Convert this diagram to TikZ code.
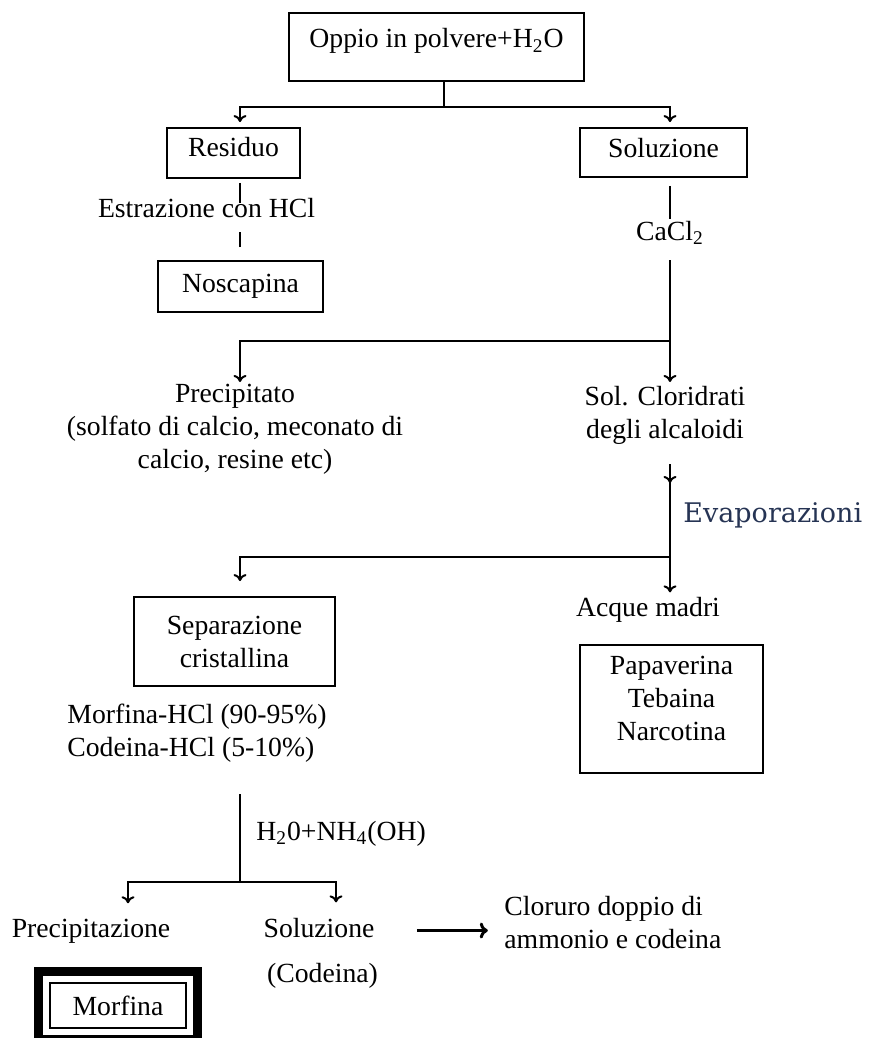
\documentclass[tikz,border=0pt]{standalone}
\usepackage{fontspec}
\setmainfont{Liberation Serif}
\newfontfamily\evapfont{DejaVu Serif}
\usetikzlibrary{arrows.meta,fit}
\definecolor{evapblue}{RGB}{38,52,84}

\begin{document}
\begin{tikzpicture}[x=0.5pt, y=-0.5pt, inner sep=0pt,
        font=\fontsize{13.85pt}{16.5pt}\selectfont,
        box/.style={draw, line width=0.9pt},
        txt/.style={anchor=base},
        link/.style={line width=1pt},
        arr/.style={line width=1pt, -{To[length=3.5pt,width=6.5pt]}},
        bigarr/.style={line width=1.5pt, -{To[length=4pt,width=8pt]}},
        frame/.style={draw, line width=4.5pt}]
        \useasboundingbox (0,0) rectangle (874,1038);
        \coordinate (colL) at (240,0); %left column of connectors
        \coordinate (colR) at (670,0); %right column of connectors
        \coordinate (j1) at (444,107);
        \coordinate (j2) at (670,341);
        \coordinate (j3) at (670,557);
        \coordinate (j4) at (240,882);

        \node[box, minimum width=147.5pt, minimum height=34pt, text height=10pt, text depth=9pt] (top) at (436.5,47) {Oppio in polvere+H\textsubscript{2}O};
        \node[box, minimum width=66.5pt, minimum height=25pt, text height=10pt, text depth=7pt] (res) at (233.5,153) {Residuo};
        \node[box, minimum width=83.5pt, minimum height=24.5pt, text height=10pt, text depth=5.5pt] (sol) at (663.5,152.5) {Soluzione};
        \node[txt] (estr) at (206.5,217) {Estrazione con HCl};
        \node[box, minimum width=82.5pt, minimum height=25.5pt, text height=10pt, text depth=4.5pt] (nos) at (240.5,286.5) {Noscapina};
        \node[txt] (cacl) at (670,240) {CaCl\textsubscript{2}};

        \node[anchor=north, align=center] (prec) at (235,384) {Precipitato\\(solfato di calcio, meconato di\\calcio, resine etc)};
        \node[anchor=north, align=center] (solclor) at (665,386) {Sol. Cloridrati\\degli alcaloidi};
        \node[anchor=base west, text=evapblue, font=\evapfont\fontsize{13.5pt}{16pt}\selectfont] (evap) at (683,522) {Evaporazioni};

        \node[box, align=center, minimum width=100.5pt, minimum height=44.5pt] (sep) at (234.5,641.5) {Separazione\\cristallina};
        \node[txt] (acque) at (648,616) {Acque madri};
        \node[box, align=center, minimum width=91.5pt, minimum height=64pt] (pap) at (671.5,709) {Papaverina\\Tebaina\\Narcotina\rule[-11pt]{0pt}{11pt}};
        \node[anchor=north west, align=left] (hcl) at (67,704) {Morfina-HCl (90-95\%)\\Codeina-HCl (5-10\%)};
        \node[anchor=base west] (nh) at (256,840) {H\textsubscript{2}0+NH\textsubscript{4}(OH)};

        \node[txt] (precz) at (91,937) {Precipitazione};
        \node[txt] (solz) at (319,937) {Soluzione};
        \node[txt] (cod) at (322.5,982) {(Codeina)};
        \node[anchor=north west, align=left] (clor) at (504,896) {Cloruro doppio di\\ammonio e codeina};
        \node[box, minimum width=68pt, minimum height=22.5pt] (morf) at (118,1005.5) {Morfina};
        \node[frame, fit=(morf), inner sep=5.25pt] (morfframe) {}; %thick outer frame

        % first split
        \draw[link] (top.south -| j1) -- (j1);
        \draw[arr, shorten >=2.5pt] (j1) -| (res.north -| colL);
        \draw[arr, shorten >=2.5pt] (j1) -| (sol.north -| colR);
        % Residuo column
        \draw[link] (res.south -| colL) ++(0,4) -- ++(0,20);
        \draw[link] (nos.north -| colL) ++(0,-13) -- ++(0,-15);
        % Soluzione column
        \draw[link] (sol.south -| colR) ++(0,8) -- ++(0,33);
        \draw[link] (cacl.base -| colR) ++(0,20) -- (j2);
        \draw[arr, shorten >=2pt] (j2) -- (solclor.north -| colR);
        \draw[arr, shorten >=1pt] (j2) -| (prec.north -| colL);
        % evaporation
        \draw[link] (solclor.south -| colR) ++(0,19) -- (j3);
        \draw[arr] (solclor.south -| colR) ++(0,30) -- ++(0,8);
        \draw[arr, shorten >=2pt] (j3) -- (acque.north -| colR);
        \draw[arr, shorten >=7.5pt] (j3) -| (sep.north -| colL);
        % H2O + NH4(OH)
        \draw[link] (hcl.south -| colL) ++(0,31) -- (j4);
        \draw[arr, shorten >=7.5pt] (j4) -| ([xshift=18.5pt]precz.north);
        \draw[arr, shorten >=7.5pt] (j4) -| ([xshift=8.5pt]solz.north);
        \draw[bigarr] ([xshift=21pt,yshift=-1.5pt]solz.east) -- ++(71,0); %to Cloruro
\end{tikzpicture}
\end{document}
